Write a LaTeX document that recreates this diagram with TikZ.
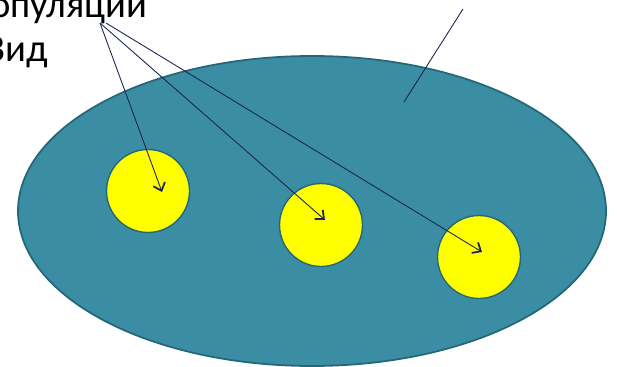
\documentclass[tikz,border=0pt]{standalone}
\usepackage{fontspec}
\setmainfont{Carlito}
\usetikzlibrary{arrows.meta,positioning}
\definecolor{speciesteal}{RGB}{58,141,163}
\definecolor{tealedge}{RGB}{36,104,120}
\definecolor{popyellow}{RGB}{255,255,0}
\definecolor{arrownavy}{RGB}{28,36,80}

\begin{document}
\begin{tikzpicture}[
    x=0.02cm, y=-0.02cm,
    every node/.style={font=\fontsize{22}{26}\selectfont},
    population/.style={circle, draw=tealedge, line width=0.8pt, fill=popyellow, minimum size=83*0.02cm, inner sep=0pt},
    pointer/.style={arrownavy, line width=0.5pt, -{Straight Barb[length=4pt,width=7pt,line width=1pt]}},
]
\useasboundingbox (0,0) rectangle (617,367);
\clip (0,0) rectangle (617,367);

% Species area
\draw[tealedge, line width=1pt, fill=speciesteal] (312,211) ellipse [x radius=294, y radius=155];

% Populations
\node[population] (pop1) at (148,191) {};
\node[population] (pop2) at (321,225) {};
\node[population] (pop3) at (479,257) {};

% Labels (cut at the left edge)
\node[anchor=base east, inner sep=0pt] (poplabel) at (148,18) {Популяции};
\node[anchor=base east, inner sep=0pt] (species) at (48,62) {Вид};

% Pointers
\coordinate (src1) at (100,23);
\coordinate (src2) at (106,23);
\coordinate (tip1) at (162,192);
\coordinate (tip2) at (325,220);
\coordinate (tip3) at (482,252);
\draw[pointer] (src1) -- (tip1);
\draw[pointer] (src1) -- (tip2);
\draw[pointer] (src2) -- (tip3);

% Line to the species
\coordinate (speciesend) at (463,9);
\coordinate (speciesin) at (404,102);
\draw[arrownavy, line width=0.5pt] (speciesend) -- (speciesin);
\end{tikzpicture}
\end{document}
